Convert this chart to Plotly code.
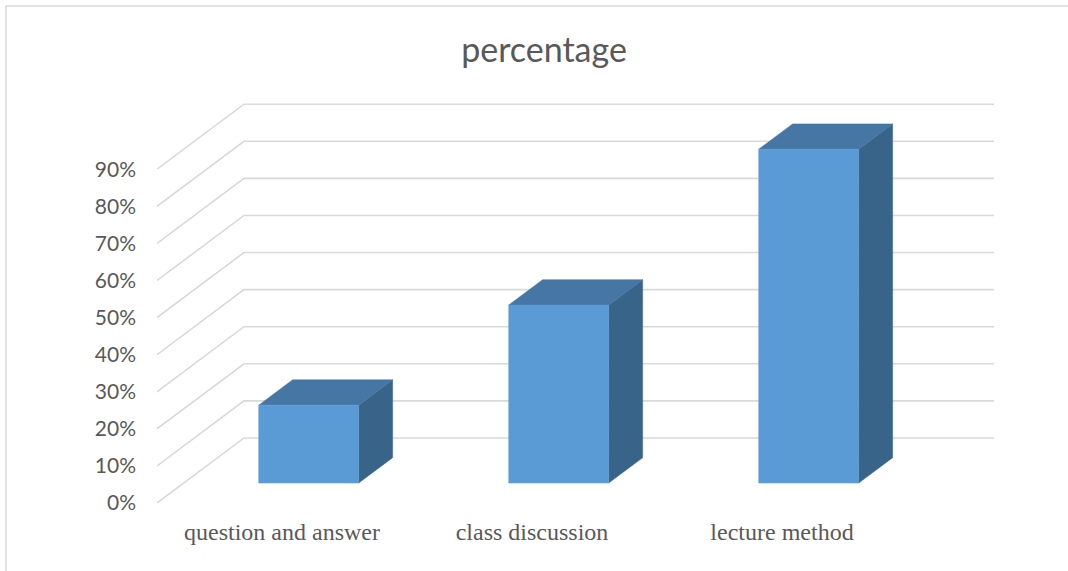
import plotly.graph_objects as go

# ---- data ----
categories = ["question and answer", "class discussion", "lecture method"]
values = [21, 48, 90]          # percent
tick_values = [0, 10, 20, 30, 40, 50, 60, 70, 80, 90]
title_text = "percentage"

# ---- 3D projection style (in data units) ----
DX = 0.348      # horizontal shift of the full floor depth (category units)
DY = 17.53      # vertical shift of the full floor depth (percent units)
GAP = 0.307     # depth fraction in front of bars
DEPTH = 0.39    # bar depth fraction
BW = 0.4        # bar width (category units)

FRONT = "#5b9bd5"
TOP = "#4676a3"
SIDE = "#386489"
GRID = "#d9d9d9"
TXT = "#595959"

W, H = 1068, 571
L, R, T, B = 157, 73, 94.9, 68.3
xmax = (W - L - R) / 250.0
ymax = (H - T - B) / 3.707

fig = go.Figure()

# gridlines: side wall diagonals + back wall horizontals
for v in tick_values:
    fig.add_trace(go.Scatter(
        x=[0, DX, 3 + DX], y=[v, v + DY, v + DY], mode="lines",
        line=dict(color=GRID, width=1.6), hoverinfo="skip", showlegend=False))

# bars
for i, (c, v) in enumerate(zip(categories, values)):
    x0 = i + 0.5 - BW / 2 + GAP * DX
    x1 = i + 0.5 + BW / 2 + GAP * DX
    yb = GAP * DY
    yt = v + GAP * DY
    ddx, ddy = DEPTH * DX, DEPTH * DY
    # side face
    fig.add_trace(go.Scatter(
        x=[x1, x1, x1 + ddx, x1 + ddx, x1], y=[yb, yt, yt + ddy, yb + ddy, yb],
        fill="toself", fillcolor=SIDE, mode="lines", line=dict(color=SIDE, width=0.5),
        hoverinfo="skip", showlegend=False))
    # top face
    fig.add_trace(go.Scatter(
        x=[x0, x1, x1 + ddx, x0 + ddx, x0], y=[yt, yt, yt + ddy, yt + ddy, yt],
        fill="toself", fillcolor=TOP, mode="lines", line=dict(color=TOP, width=0.5),
        hoverinfo="skip", showlegend=False))
    # front face
    fig.add_trace(go.Scatter(
        x=[x0, x1, x1, x0, x0], y=[yb, yb, yt, yt, yb],
        fill="toself", fillcolor=FRONT, mode="lines", line=dict(color=FRONT, width=0.5),
        name=c, hoverinfo="name+text", text=[f"{v}%"] * 5, showlegend=False))

# chart border (only top/left visible)
pw, ph = W - L - R, H - T - B
fig.add_shape(type="rect", xref="paper", yref="paper",
              x0=(6 - L) / pw, x1=(W + 20 - L) / pw,
              y0=-(H + 20 - (H - B)) / ph, y1=(H - B - 6) / ph,
              line=dict(color=GRID, width=1.5), layer="below")

fig.update_layout(
    width=W, height=H,
    margin=dict(l=L, r=R, t=T, b=B),
    paper_bgcolor="white", plot_bgcolor="white",
    title=dict(text=title_text, x=544 / W, xref="container", xanchor="center",
               y=1 - 50 / H, yref="container", yanchor="middle",
               font=dict(family="Lato", size=34, color=TXT)),
    xaxis=dict(range=[0, xmax], tickvals=[i + 0.5 for i in range(len(categories))],
               ticktext=categories, showgrid=False, zeroline=False, showline=False,
               ticks="", ticklabelstandoff=12,
               tickfont=dict(family="Liberation Serif", size=24, color=TXT)),
    yaxis=dict(range=[0, ymax], tickvals=tick_values,
               ticktext=[f"{v}%" for v in tick_values],
               showgrid=False, zeroline=False, showline=False, ticks="",
               ticklabelstandoff=20,
               tickfont=dict(family="Lato", size=21, color=TXT)),
)

fig.write_html("out.html")
